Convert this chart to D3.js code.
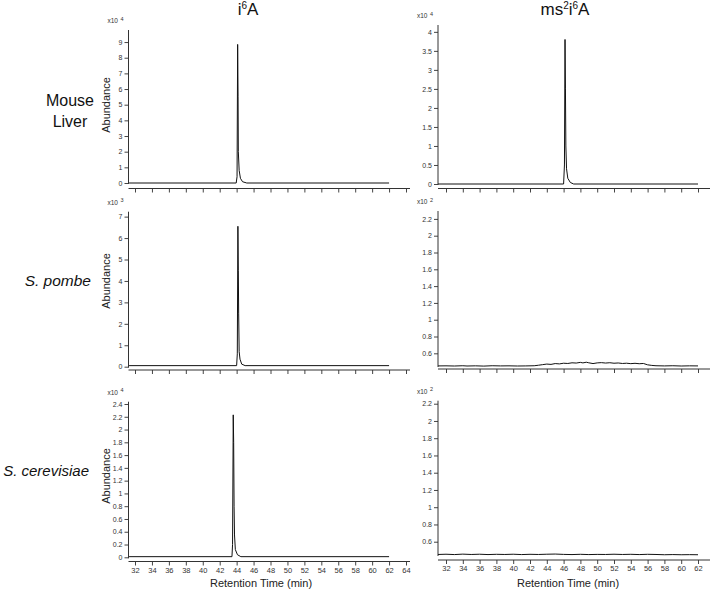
<!DOCTYPE html>
<html>
<head>
<meta charset="utf-8">
<script src="https://cdn.jsdelivr.net/npm/d3@7"></script>
<style>
body { margin: 0; background: #fff; }
svg { display: block; font-family: Arial, "Liberation Sans", sans-serif; }
</style>
</head>
<body>
<div id="chart"></div>
<script>
// x ticks (retention time, min)
var xTicksLeft = [32, 34, 36, 38, 40, 42, 44, 46, 48, 50, 52, 54, 56, 58, 60, 62, 64];
var xTicksRight = [32, 34, 36, 38, 40, 42, 44, 46, 48, 50, 52, 54, 56, 58, 60, 62];

// y ticks for each panel
var yTicksMouseI6A = [0, 1, 2, 3, 4, 5, 6, 7, 8, 9];
var yTicksMouseMs2 = [0, 0.5, 1, 1.5, 2, 2.5, 3, 3.5, 4];
var yTicksPombeI6A = [0, 1, 2, 3, 4, 5, 6, 7];
var yTicksPombeMs2 = [0.6, 0.8, 1, 1.2, 1.4, 1.6, 1.8, 2, 2.2];
var yTicksCereI6A = [0, 0.2, 0.4, 0.6, 0.8, 1, 1.2, 1.4, 1.6, 1.8, 2, 2.2, 2.4];
var yTicksCereMs2 = [0.6, 0.8, 1, 1.2, 1.4, 1.6, 1.8, 2, 2.2];

// traces [time, abundance] (abundance in units of the panel's x10^n)
var mouseI6A = [[31.3, 0], [43.95, 0], [44.05, 0.4], [44.12, 8.85], [44.17, 5.5], [44.2, 2.0],
  [44.3, 0.8], [44.45, 0.3], [44.7, 0.08], [45.2, 0], [62, 0]];
var mouseMs2 = [[31.05, 0], [46.0, 0], [46.1, 0.5], [46.17, 3.8], [46.22, 2.5], [46.27, 1.0],
  [46.35, 0.4], [46.5, 0.15], [46.8, 0.04], [47.2, 0], [62, 0]];
var pombeI6A = [[31.3, 0.05], [44.0, 0.05], [44.08, 0.6], [44.15, 6.55], [44.2, 4.5], [44.24, 2.5],
  [44.3, 0.7], [44.4, 0.35], [44.6, 0.12], [45.0, 0.05], [62, 0.05]];
var pombeMs2 = [[31.05, 0.45], [32, 0.451], [33, 0.449], [34, 0.452], [34.5, 0.449], [35.5, 0.451],
  [36.5, 0.448], [37.5, 0.452], [38.5, 0.45], [39.5, 0.451], [40.5, 0.449], [41.5, 0.45],
  [42.5, 0.452], [43, 0.458], [43.5, 0.465], [44, 0.472], [44.5, 0.468], [45, 0.478],
  [45.5, 0.474], [46, 0.482], [46.5, 0.479], [47, 0.487], [47.5, 0.484], [48, 0.492],
  [48.3, 0.486], [48.7, 0.494], [49, 0.487], [49.5, 0.478], [50, 0.486], [50.5, 0.489],
  [51, 0.484], [51.5, 0.488], [52, 0.482], [52.5, 0.485], [53, 0.479], [53.5, 0.482],
  [54, 0.477], [54.5, 0.481], [55, 0.476], [55.5, 0.479], [56, 0.463], [56.5, 0.456],
  [57, 0.452], [58, 0.45], [59, 0.452], [60, 0.449], [61, 0.451], [62, 0.45]];
var cereI6A = [[31.3, 0.01], [43.45, 0.01], [43.52, 0.2], [43.6, 2.23], [43.65, 1.8], [43.7, 0.8],
  [43.75, 0.35], [43.85, 0.12], [44.1, 0.04], [44.5, 0.01], [62, 0.01]];
var cereMs2 = [[31.05, 0.452], [32, 0.455], [33, 0.451], [34, 0.456], [35, 0.452], [36, 0.455],
  [37, 0.451], [38, 0.454], [39, 0.452], [40, 0.455], [41, 0.451], [42, 0.454], [43, 0.452],
  [44, 0.455], [45, 0.457], [46, 0.453], [47, 0.451], [48, 0.454], [49, 0.451], [50, 0.453],
  [51, 0.452], [52, 0.455], [53, 0.452], [54, 0.454], [55, 0.451], [56, 0.454], [57, 0.452],
  [58, 0.449], [59, 0.451], [60, 0.449], [61, 0.45], [62, 0.449]];

var rowNames = ["Mouse Liver", "S. pombe", "S. cerevisiae"];

var width = 720, height = 590;

var svg = d3.select("#chart").append("svg")
    .attr("width", width)
    .attr("height", height);

// column layout: axis start/end and tick scale
var cols = [
  {x0: 128.5, x1: 410, domain: [32, 64], range: [135, 406], ticks: xTicksLeft},
  {x0: 438, x1: 710, domain: [32, 62], range: [446, 698], ticks: xTicksRight}
];

var panels = [
  {col: 0, row: 0, data: mouseI6A, yTicks: yTicksMouseI6A, exp: 4, yDomain: [0, 9.77], yRange: [183, 30], xAxisY: 188.5},
  {col: 1, row: 0, data: mouseMs2, yTicks: yTicksMouseMs2, exp: 4, yDomain: [0, 4.18], yRange: [184, 25], xAxisY: 188.5},
  {col: 0, row: 1, data: pombeI6A, yTicks: yTicksPombeI6A, exp: 3, yDomain: [0, 7.23], yRange: [366.7, 211.7], xAxisY: 370},
  {col: 1, row: 1, data: pombeMs2, yTicks: yTicksPombeMs2, exp: 2, yDomain: [0.449, 2.294], yRange: [366, 211], xAxisY: 369},
  {col: 0, row: 2, data: cereI6A, yTicks: yTicksCereI6A, exp: 4, yDomain: [0, 2.436], yRange: [557.3, 401.7], xAxisY: 561.5},
  {col: 1, row: 2, data: cereMs2, yTicks: yTicksCereMs2, exp: 2, yDomain: [0.446, 2.235], yRange: [555, 400.7], xAxisY: 560}
];

var abundanceY = [105, 281, 476];

panels.forEach(function (p) {
    var c = cols[p.col];
    var x = d3.scaleLinear().domain(c.domain).range(c.range);
    var y = d3.scaleLinear().domain(p.yDomain).range(p.yRange);
    var g = svg.append("g");

    // y axis
    var yAxis = d3.axisLeft(y)
        .tickValues(p.yTicks)
        .tickSize(4)
        .tickPadding(2)
        .tickFormat(function (d) { return String(d); });
    var ya = g.append("g")
        .attr("transform", "translate(" + c.x0 + ",0)")
        .call(yAxis);
    ya.select(".domain").remove();
    ya.selectAll("line").attr("stroke", "#444");
    ya.selectAll("text").attr("font-size", 7).attr("fill", "#333").attr("font-family", "Arial, sans-serif");
    g.append("line")
        .attr("x1", c.x0).attr("x2", c.x0)
        .attr("y1", p.yRange[1]).attr("y2", p.yRange[0] + 1)
        .attr("stroke", "#333").attr("stroke-width", 1);

    // x axis, separate line below the trace
    var xAxis = d3.axisBottom(x)
        .tickValues(c.ticks)
        .tickSize(4)
        .tickPadding(2)
        .tickFormat(p.row === 2 ? d3.format("d") : "");
    var xa = g.append("g")
        .attr("transform", "translate(0," + p.xAxisY + ")")
        .call(xAxis);
    xa.select(".domain").remove();
    xa.selectAll("line").attr("stroke", "#444");
    xa.selectAll("text").attr("font-size", 7.5).attr("fill", "#333").attr("font-family", "Arial, sans-serif");
    g.append("line")
        .attr("x1", c.x0).attr("x2", c.x1)
        .attr("y1", p.xAxisY).attr("y2", p.xAxisY)
        .attr("stroke", "#333").attr("stroke-width", 1);

    // exponent label
    var ex = g.append("text")
        .attr("x", c.x0 - 21)
        .attr("y", p.yRange[1] - 7)
        .attr("font-size", 6.5)
        .attr("fill", "#333")
        .text("x10");
    ex.append("tspan").attr("dx", 2.5).attr("dy", -2.5).attr("font-size", 5.5).text(p.exp);

    // trace
    var line = d3.line()
        .x(function (d) { return x(d[0]); })
        .y(function (d) { return y(d[1]); });
    g.append("path")
        .datum(p.data)
        .attr("d", line)
        .attr("fill", "none")
        .attr("stroke", "#111")
        .attr("stroke-width", 1);

    // Abundance label on left column only
    if (p.col === 0) {
        g.append("text")
            .attr("transform", "translate(110," + abundanceY[p.row] + ") rotate(-90)")
            .attr("text-anchor", "middle")
            .attr("font-size", 11)
            .attr("fill", "#222")
            .text("Abundance");
    }

    // x axis title on bottom row
    if (p.row === 2) {
        g.append("text")
            .attr("x", p.col === 0 ? 261 : 568)
            .attr("y", 587)
            .attr("text-anchor", "middle")
            .attr("font-size", 11)
            .attr("fill", "#222")
            .text("Retention Time (min)");
    }
});

// column titles
var t1 = svg.append("text").attr("x", 248).attr("y", 15).attr("text-anchor", "middle")
    .attr("font-size", 17).attr("fill", "#111");
t1.append("tspan").text("i");
t1.append("tspan").attr("dy", -6).attr("font-size", 10).text("6");
t1.append("tspan").attr("dy", 6).text("A");

var t2 = svg.append("text").attr("x", 565).attr("y", 15).attr("text-anchor", "middle")
    .attr("font-size", 17).attr("fill", "#111");
t2.append("tspan").text("ms");
t2.append("tspan").attr("dy", -6).attr("font-size", 10).text("2");
t2.append("tspan").attr("dy", 6).text("i");
t2.append("tspan").attr("dy", -6).attr("font-size", 10).text("6");
t2.append("tspan").attr("dy", 6).text("A");

// row labels
svg.append("text").attr("x", 70).attr("y", 106).attr("text-anchor", "middle")
    .attr("font-size", 16).attr("fill", "#111").text("Mouse");
svg.append("text").attr("x", 70).attr("y", 127).attr("text-anchor", "middle")
    .attr("font-size", 16).attr("fill", "#111").text("Liver");
svg.append("text").attr("x", 91).attr("y", 286).attr("text-anchor", "end")
    .attr("font-size", 15.5).attr("font-style", "italic").attr("fill", "#111").text(rowNames[1]);
svg.append("text").attr("x", 89).attr("y", 476).attr("text-anchor", "end")
    .attr("font-size", 15).attr("font-style", "italic").attr("fill", "#111").text(rowNames[2]);
</script>
</body>
</html>
